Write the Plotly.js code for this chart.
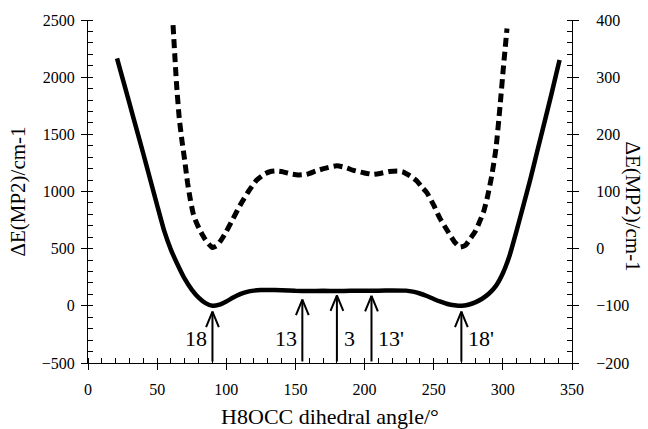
<!DOCTYPE html>
<html>
<head>
<meta charset="utf-8">
<script src="https://cdn.plot.ly/plotly-3.0.1.min.js"></script>
<style>html,body{margin:0;padding:0;background:#fff}#chart{width:648px;height:429px}</style>
</head>
<body>
<div id="chart"></div>
<script>
// Solid curve (left axis, cm-1)
const solidAngle = [21, 25, 30, 35, 40, 45, 50, 55, 60, 65, 70, 75, 80, 85, 90, 95, 100, 105, 110, 115, 120, 125, 130, 140, 150, 160, 170, 180, 190, 200, 210, 220, 230, 235, 240, 245, 250, 255, 260, 265, 270, 275, 280, 285, 290, 295, 300, 305, 310, 315, 320, 325, 330, 335, 341];
const solidE = [2165, 1990, 1770, 1550, 1330, 1105, 880, 660, 490, 355, 235, 142, 72, 24, 0, 10, 38, 72, 102, 122, 133, 138, 139, 136, 131, 129, 131, 129, 131, 132, 133, 135, 133, 124, 108, 86, 60, 36, 16, 5, 0, 9, 30, 62, 108, 175, 285, 445, 660, 885, 1112, 1358, 1600, 1845, 2150];

// Dashed curve (right axis, cm-1)
const dashAngle = [61.5, 64, 66, 68, 70, 72, 74, 76, 78, 81, 84, 87, 90, 93, 96, 100, 105, 110, 116, 122, 128, 132, 136, 140, 146, 152, 158, 165, 172, 180, 186, 192, 199, 206, 212, 218, 224, 228, 233, 238, 242, 245, 250, 254.5, 259.5, 265, 269, 273, 276, 280, 283, 286, 289, 292, 295, 298, 300.5, 303];
const dashE = [391, 289, 228, 188, 153, 115, 86, 62, 48, 32, 19, 9, 2, 5, 14, 30, 53, 76, 100, 120, 131, 135, 136, 135, 131, 129, 130, 136, 141, 145, 142, 137, 133, 130, 132, 135, 136, 134, 127, 118, 106, 98, 76, 53, 33, 12, 3, 6, 16, 30, 46, 64, 92, 128, 175, 250, 320, 385];

// Arrows
const arrowAngle = [90, 155, 180, 205, 270];
const arrowTip = [-50, 55, 92, 88, -50];
const arrowLabels = ['18', '13', '3', "13'", "18'"];
const labelSide = ['left', 'left', 'right', 'right', 'right'];
const arrowBase = -500;
const labelLevel = -285;

const FONT = '"Liberation Serif", "Times New Roman", serif';

const traces = [
  {x: solidAngle, y: solidE, type: 'scatter', mode: 'lines', xaxis: 'x', yaxis: 'y',
   line: {color: '#000', width: 4.5, shape: 'spline', smoothing: 0.4}, showlegend: false, hoverinfo: 'skip'},
  {x: dashAngle, y: dashE, type: 'scatter', mode: 'lines', xaxis: 'x', yaxis: 'y2',
   line: {color: '#000', width: 5, dash: '9px,5px', shape: 'spline', smoothing: 0.5}, showlegend: false, hoverinfo: 'skip'}
];

const annotations = [];
arrowAngle.forEach((a, i) => {
  annotations.push({x: a, y: arrowTip[i], ax: a, ay: arrowBase, xref: 'x', yref: 'y', axref: 'x', ayref: 'y',
    text: '', showarrow: true, arrowhead: 0, arrowwidth: 2, arrowcolor: '#000'});
  [-1, 1].forEach(s => {
    annotations.push({x: a, y: arrowTip[i], xref: 'x', yref: 'y', ax: s * 7, ay: 17,
      text: '', showarrow: true, arrowhead: 0, arrowwidth: 2, arrowcolor: '#000'});
  });
  annotations.push({x: a, y: labelLevel, xref: 'x', yref: 'y', text: arrowLabels[i], showarrow: false,
    xanchor: labelSide[i] === 'left' ? 'right' : 'left', xshift: labelSide[i] === 'left' ? -3 : 5,
    yanchor: 'middle', font: {family: FONT, size: 22, color: '#000'}});
});
annotations.push({x: 1.127, y: 0.455, xref: 'paper', yref: 'paper', text: 'ΔE(MP2)/cm-1', textangle: 90,
  showarrow: false, font: {family: FONT, size: 21, color: '#000'}, xanchor: 'center', yanchor: 'middle'});

const tickFont = {family: FONT, size: 16, color: '#000'};
const layout = {
  width: 648, height: 429,
  margin: {l: 88, r: 76, t: 20, b: 66},
  paper_bgcolor: '#fff', plot_bgcolor: '#fff',
  showlegend: false,
  font: {family: FONT, color: '#000'},
  xaxis: {range: [0, 350], dtick: 50, tick0: 0, ticks: 'outside', ticklen: 6, tickwidth: 1, tickcolor: '#000',
    showline: true, linecolor: '#000', linewidth: 1, showgrid: false, zeroline: false,
    tickfont: tickFont, ticklabelstandoff: 6,
    minor: {dtick: 10, ticks: 'inside', ticklen: 5, tickcolor: '#000', showgrid: false},
    title: {text: 'H8OCC dihedral angle/°', font: {family: FONT, size: 22, color: '#000'}, standoff: 12}},
  xaxis2: {overlaying: 'x', range: [0, 350], dtick: 50, tick0: 0, ticks: 'inside', ticklen: 6, tickcolor: '#000',
    showticklabels: false, showline: false, showgrid: false, zeroline: false, side: 'bottom'},
  yaxis: {range: [-500, 2500], dtick: 500, ticks: 'outside', ticklen: 6, tickcolor: '#000',
    showline: true, linecolor: '#000', linewidth: 1, showgrid: false, zeroline: false,
    tickfont: tickFont, ticklabelstandoff: 3,
    minor: {dtick: 100, ticks: 'inside', ticklen: 5, tickcolor: '#000', showgrid: false},
    title: {text: 'ΔE(MP2)/cm-1', font: {family: FONT, size: 21, color: '#000'}, standoff: 10}},
  yaxis2: {overlaying: 'y', side: 'right', range: [-200, 400], dtick: 100, ticks: 'outside', ticklen: 6, tickcolor: '#000',
    showline: true, linecolor: '#000', linewidth: 1, showgrid: false, zeroline: false,
    tickfont: tickFont, ticklabelstandoff: 14,
    minor: {dtick: 20, ticks: 'inside', ticklen: 5, tickcolor: '#000', showgrid: false}},
  yaxis3: {overlaying: 'y', side: 'left', range: [-500, 2500], dtick: 500, ticks: 'inside', ticklen: 6, tickcolor: '#000',
    showticklabels: false, showline: false, showgrid: false, zeroline: false},
  yaxis4: {overlaying: 'y', side: 'right', range: [-200, 400], dtick: 100, ticks: 'inside', ticklen: 6, tickcolor: '#000',
    showticklabels: false, showline: false, showgrid: false, zeroline: false},
  annotations: annotations
};

Plotly.newPlot('chart', traces, layout, {displayModeBar: false, staticPlot: true});
</script>
</body>
</html>
